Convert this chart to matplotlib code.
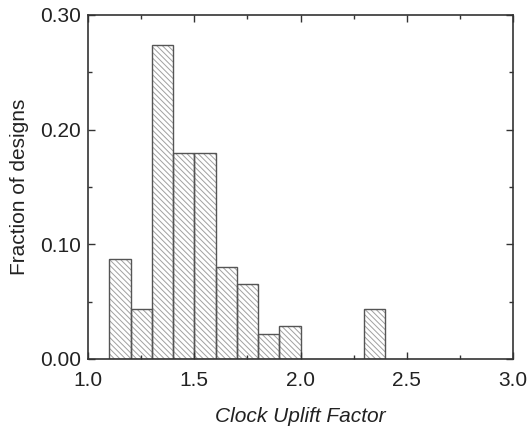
import matplotlib
matplotlib.use("Agg")
import matplotlib.pyplot as plt
import numpy as np
from matplotlib.ticker import MultipleLocator, FormatStrFormatter

bin_left = [1.1, 1.2, 1.3, 1.4, 1.5, 1.6, 1.7, 1.8, 1.9, 2.3]
fractions = [0.087, 0.044, 0.274, 0.180, 0.180, 0.080, 0.065, 0.022, 0.029, 0.044]
bin_width = 0.1
x_label = "Clock Uplift Factor"
y_label = "Fraction of designs"

plt.rcParams['font.family'] = ['Liberation Sans', 'DejaVu Sans']
plt.rcParams['hatch.linewidth'] = 0.7

fig = plt.figure(figsize=(5.3, 4.3), dpi=100)
ax = fig.add_axes([88/530, 1-359/430, (513-88)/530, (359-15)/430])

# hatched fill (gray hatch lines)
ax.bar(bin_left, fractions, width=bin_width, align='edge', facecolor='white',
       edgecolor='#a0a0a0', linewidth=0, hatch='\\\\\\\\\\\\')
# outlines
ax.bar(bin_left, fractions, width=bin_width, align='edge', facecolor='none',
       edgecolor='#555555', linewidth=1.0)

ax.set_xlim(1.0, 3.0)
ax.set_ylim(0, 0.30)
ax.xaxis.set_major_locator(MultipleLocator(0.5))
ax.xaxis.set_minor_locator(MultipleLocator(0.25))
ax.yaxis.set_major_locator(MultipleLocator(0.1))
ax.yaxis.set_minor_locator(MultipleLocator(0.05))
ax.xaxis.set_major_formatter(FormatStrFormatter('%.1f'))
ax.yaxis.set_major_formatter(FormatStrFormatter('%.2f'))

for s in ax.spines.values():
    s.set_color('#333333')
    s.set_linewidth(1.2)

ax.tick_params(which='both', direction='in', top=True, right=True, colors='#333333',
               labelcolor='#222222')
ax.tick_params(which='major', length=5, width=1.0, labelsize=15)
ax.tick_params(axis='x', which='major', pad=9)
ax.tick_params(axis='y', which='major', pad=5)
ax.tick_params(which='minor', length=3, width=1.0)

ax.set_xlabel(x_label, fontsize=15, style='italic', color='#222222', labelpad=12)
ax.set_ylabel(y_label, fontsize=15, color='#222222', labelpad=8)

fig.savefig("out.png", dpi=100)
